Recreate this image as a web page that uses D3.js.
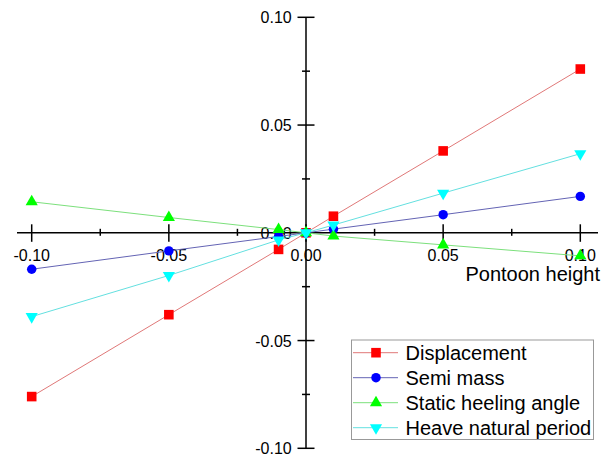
<!DOCTYPE html>
<html><head><meta charset="utf-8">
<script src="https://cdn.jsdelivr.net/npm/d3@7"></script>
<style>html,body{margin:0;padding:0;background:#fff;}svg{display:block;font-family:"Liberation Sans",Arial,sans-serif;}</style>
</head><body>
<svg id="c" width="602" height="457"></svg>
<script>
const xValues = [-0.10, -0.05, -0.01, 0, 0.01, 0.05, 0.10];
const displacement = [-0.076, -0.038, -0.0077, 0, 0.0077, 0.038, 0.076];
const semiMass = [-0.0169, -0.0084, -0.0017, 0, 0.0017, 0.0084, 0.0169];
const staticHeeling = [0.0144, 0.0071, 0.0015, 0, -0.0015, -0.0056, -0.0107];
const heavePeriod = [-0.0389, -0.0198, -0.0033, 0, 0.0036, 0.0184, 0.0367];
const majorTicks = [-0.10, -0.05, 0, 0.05, 0.10];
const minorTicks = [-0.075, -0.025, 0.025, 0.075];
const tickLabels = ["-0.10", "-0.05", "0.00", "0.05", "0.10"];
const seriesNames = ["Displacement", "Semi mass", "Static heeling angle", "Heave natural period"];

const series = [
  {name: seriesNames[0], values: displacement, line: "#e07878", fill: "#ff0000", sym: d3.symbolSquare, size: 92},
  {name: seriesNames[1], values: semiMass, line: "#6464b4", fill: "#0000ff", sym: d3.symbolCircle, size: 70},
  {name: seriesNames[2], values: staticHeeling, line: "#7ce07c", fill: "#00ff00", sym: d3.symbolTriangle, size: 64, rot: 0},
  {name: seriesNames[3], values: heavePeriod, line: "#64e0e0", fill: "#00ffff", sym: d3.symbolTriangle, size: 64, rot: 180}
];

const svg = d3.select("#c");
const x = d3.scaleLinear().domain([-0.10, 0.10]).range([31.7, 580.3]);
const y = d3.scaleLinear().domain([-0.10, 0.10]).range([448.3, 17.3]);
const x0 = x(0), y0 = y(0);

const ax = svg.append("g").attr("stroke", "#000").attr("stroke-width", 1.5);
ax.append("line").attr("x1", 17).attr("x2", 598).attr("y1", y0).attr("y2", y0);
ax.append("line").attr("x1", x0).attr("x2", x0).attr("y1", y(0.10)).attr("y2", y(-0.10));
majorTicks.forEach(t => ax.append("line").attr("x1", x(t)).attr("x2", x(t)).attr("y1", y0 - 8.5).attr("y2", y0 + 9));
minorTicks.forEach(t => ax.append("line").attr("x1", x(t)).attr("x2", x(t)).attr("y1", y0 - 4).attr("y2", y0 + 3));
majorTicks.forEach(t => ax.append("line").attr("y1", y(t)).attr("y2", y(t)).attr("x1", x0 - 8.5).attr("x2", x0 + 8.5));
minorTicks.forEach(t => ax.append("line").attr("y1", y(t)).attr("y2", y(t)).attr("x1", x0 - 4).attr("x2", x0 + 4));

const lab = svg.append("g").attr("font-size", 16).attr("fill", "#000");
majorTicks.forEach((t, i) => {
  lab.append("text").attr("x", x(t)).attr("y", 261).attr("text-anchor", "middle").text(tickLabels[i]);
  lab.append("text").attr("x", 291.7).attr("y", y(t) + 6).attr("text-anchor", "end").text(tickLabels[i]);
});
svg.append("text").attr("x", 600).attr("y", 281).attr("text-anchor", "end").attr("font-size", 20).text("Pontoon height");

const line = d3.line().x(d => x(d[0])).y(d => y(d[1]));
series.forEach(s => {
  const pts = xValues.map((xv, i) => [xv, s.values[i]]);
  svg.append("path").attr("d", line(pts)).attr("fill", "none").attr("stroke", s.line).attr("stroke-width", 1);
  const sym = d3.symbol().type(s.sym).size(s.size);
  svg.append("g").selectAll("path").data(pts).join("path")
    .attr("d", sym)
    .attr("transform", d => `translate(${x(d[0])},${y(d[1])}) rotate(${s.rot || 0})`)
    .attr("fill", s.fill);
});

const lg = svg.append("g");
lg.append("rect").attr("x", 351.5).attr("y", 340).attr("width", 242).attr("height", 99.5)
  .attr("fill", "#fff").attr("stroke", "#999").attr("stroke-width", 1);
series.forEach((s, i) => {
  const cy = 352.7 + i * 25;
  lg.append("line").attr("x1", 353).attr("x2", 398).attr("y1", cy).attr("y2", cy).attr("stroke", s.line).attr("stroke-width", 1);
  lg.append("path").attr("d", d3.symbol().type(s.sym).size(s.size)).attr("fill", s.fill)
    .attr("transform", `translate(376,${cy}) rotate(${s.rot || 0})`);
  lg.append("text").attr("x", 405.5).attr("y", cy + 7).attr("font-size", 20).text(s.name);
});
</script>
</body></html>
